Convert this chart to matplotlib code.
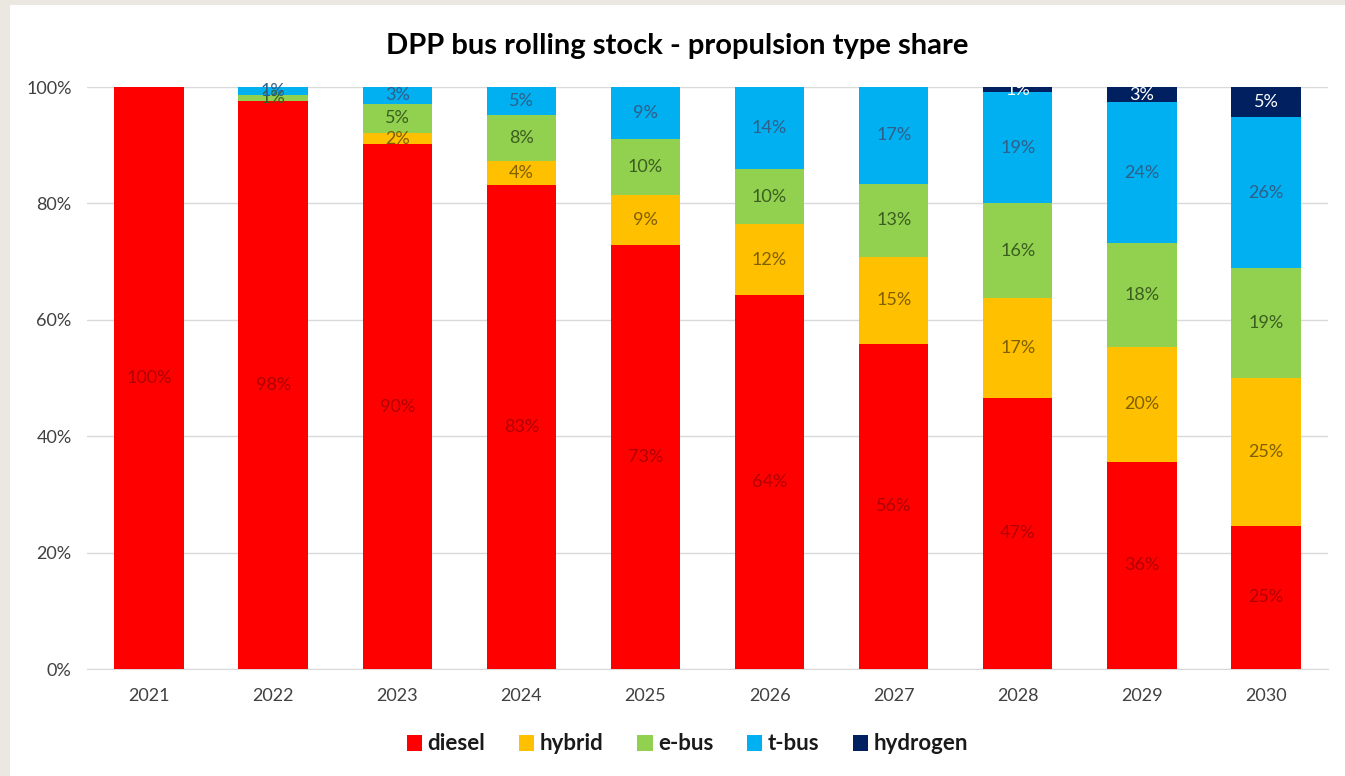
import matplotlib
matplotlib.use("Agg")
import matplotlib.pyplot as plt
from matplotlib.patches import Rectangle
import numpy as np

years = ["2021", "2022", "2023", "2024", "2025", "2026", "2027", "2028", "2029", "2030"]
diesel = [100.0, 97.6, 90.2, 83.1, 72.9, 64.3, 55.9, 46.6, 35.6, 24.6]
hybrid = [0.0, 0.0, 1.9, 4.2, 8.6, 12.1, 14.9, 17.2, 19.8, 25.4]
ebus = [0.0, 1.1, 5.0, 7.9, 9.6, 9.5, 12.6, 16.2, 17.8, 18.9]
tbus = [0.0, 1.3, 2.9, 4.8, 8.9, 14.1, 16.6, 19.1, 24.2, 25.9]
hydrogen = [0.0, 0.0, 0.0, 0.0, 0.0, 0.0, 0.0, 0.9, 2.6, 5.2]

series_names = ["diesel", "hybrid", "e-bus", "t-bus", "hydrogen"]
series_values = [diesel, hybrid, ebus, tbus, hydrogen]
bar_colors = ["#FF0000", "#FFC000", "#92D050", "#00B0F0", "#002060"]
label_colors = ["#b00000", "#7f5f00", "#3b5e1f", "#2f5f8a", "#ffffff"]
y_ticks = [0, 20, 40, 60, 80, 100]
title = "DPP bus rolling stock - propulsion type share"

plt.rcParams['font.family'] = ['Lato', 'DejaVu Sans']

W, H = 1345, 776
fig = plt.figure(figsize=(W / 100, H / 100), dpi=100)
fig.patch.set_facecolor("#ebe7e1")
bg = Rectangle((10 / W, 0), 1 - 10 / W, 1 - 5 / H, transform=fig.transFigure,
               facecolor="white", edgecolor="none", zorder=-10)
fig.patches.append(bg)

ax = fig.add_axes([87 / W, 107 / H, 1241 / W, 582 / H])
ax.set_zorder(1)
ax.set_facecolor("white")

x = np.arange(len(years))
bottom = np.zeros(len(years))
for name, vals, col, lcol in zip(series_names, series_values, bar_colors, label_colors):
    vals = np.array(vals)
    ax.bar(x, vals, width=0.56, bottom=bottom, color=col, label=name, zorder=3)
    for xi, v, b in zip(x, vals, bottom):
        if v >= 0.5:
            ax.text(xi, b + v / 2, f"{round(v):.0f}%", ha="center", va="center",
                    fontsize=13, color=lcol, zorder=4)
    bottom += vals

ax.set_xlim(-0.5, len(years) - 0.5)
ax.set_ylim(0, 100)
ax.set_yticks(y_ticks)
ax.set_yticklabels([f"{t}%" for t in y_ticks], fontsize=13, color="#404040")
ax.set_xticks(x)
ax.set_xticklabels(years, fontsize=13, color="#404040")
ax.tick_params(axis="both", length=0)
ax.tick_params(axis="y", pad=11)
ax.tick_params(axis="x", pad=14)
ax.grid(axis="y", color="#d9d9d9", linewidth=1, zorder=0)
for s in ["top", "right", "left"]:
    ax.spines[s].set_visible(False)
ax.spines["bottom"].set_color("#d9d9d9")

fig.text(0.5 + 5 / W, 1 - 46 / H, title, ha="center", va="center", fontsize=21,
         fontweight="bold", color="black")

leg = fig.legend(loc="center", bbox_to_anchor=(0.5 + 15 / W, 1 - 744 / H), ncol=5,
                 frameon=False, prop={"size": 16, "weight": "bold"},
                 handlelength=0.7, handleheight=0.7, handletextpad=0.25, columnspacing=1.5)
for t in leg.get_texts():
    t.set_color("#1a1a1a")

fig.savefig("out.png", dpi=100, facecolor=fig.get_facecolor())
